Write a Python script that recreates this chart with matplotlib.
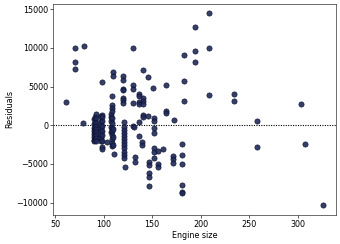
import numpy as np
import matplotlib
matplotlib.use("Agg")
from matplotlib import pyplot as plt

# residuals grouped by engine size
engine_sizes = [61, 70, 79, 80, 90, 91, 92, 97, 98, 103, 108, 109, 110, 111,
                120, 121, 122, 130, 131, 132, 136, 140, 141, 146, 147, 151,
                152, 156, 161, 164, 171, 173, 181, 183, 194, 209, 234, 258,
                304, 308, 326]
residuals = [
    [3000],
    [9970, 8160, 7260],
    [250],
    [10300],
    [800, 200, -300, -700, -1100, -1500, -1900, -2100],
    [1000, 400, -200, -600, -1000, -1400, -1800],
    [1450, 900, 300, -100, -500, -900, -1300, -1700, -2000],
    [1250, 600, 0, -400, -800, -1200, -1600, -2000],
    [5620, 1270, 1000, 500, -100, -700, -1300, -2100, -2800, -3100],
    [-2130],
    [1400, 1100, 500, -200, -900],
    [3770, 2650, 2220, 1830, 900, 300, -300, -800, -1300, -1800, -2300, -2700],
    [6910, 6350, -500, -1500, -2500],
    [-3720],
    [6400, 5880, 4670, 4500, 3550, 3250, 2850],
    [400, -200, -600, -1000, -1400, -1800, -2200, -2600, -3000, -3400, -3800, -4200],
    [-5360],
    [9970, 5230, 4670, 2870, -100],
    [-280],
    [-4070, -4700],
    [4030, 3720, 3000, 2750, 400, -1360],
    [-2130, -2550],
    [7130, 3460, 3080, 2800, 1300, 1000],
    [6270, 1200],
    [-4720, -5200, -6230, -6670, -7860],
    [4800],
    [930, 500, -300, -1000, -2950, -3520, -4190],
    [-3340, -5000, -5400],
    [-3080],
    [5190, 1830, 1550],
    [-3940, -4400, -4850],
    [710],
    [-2480, -3810, -4970, -7780, -8590, -8800],
    [9070, 5710, 3130],
    [12690, 9620, 8160],
    [14440, 10010, 3850],
    [4030, 3170],
    [540, -2780],
    [2690],
    [-2390],
    [-10360],
]

x = []
y = []
for es, rs in zip(engine_sizes, residuals):
    for r in rs:
        x.append(es)
        y.append(r)

fs = 5.8
fig = plt.figure(figsize=(3.4, 2.44), dpi=100)
ax = fig.add_axes([0.156, 0.119, 0.831, 0.865])
ax.scatter(x, y, s=14, facecolor='#1f2a58', edgecolor='#0b1030',
           linewidths=0.5, alpha=0.9, zorder=3)
ax.axhline(0, color='black', linestyle=(0, (1, 1.2)), linewidth=0.8, zorder=2)
ax.set_xlabel('Engine size', fontsize=fs, labelpad=2)
ax.set_ylabel('Residuals', fontsize=fs, labelpad=1.5)
ax.tick_params(labelsize=fs, length=1.9, width=0.45, pad=1.5)
for sp in ax.spines.values():
    sp.set_linewidth(0.5)
    sp.set_color('#333333')
fig.savefig('out.png', dpi=100)
